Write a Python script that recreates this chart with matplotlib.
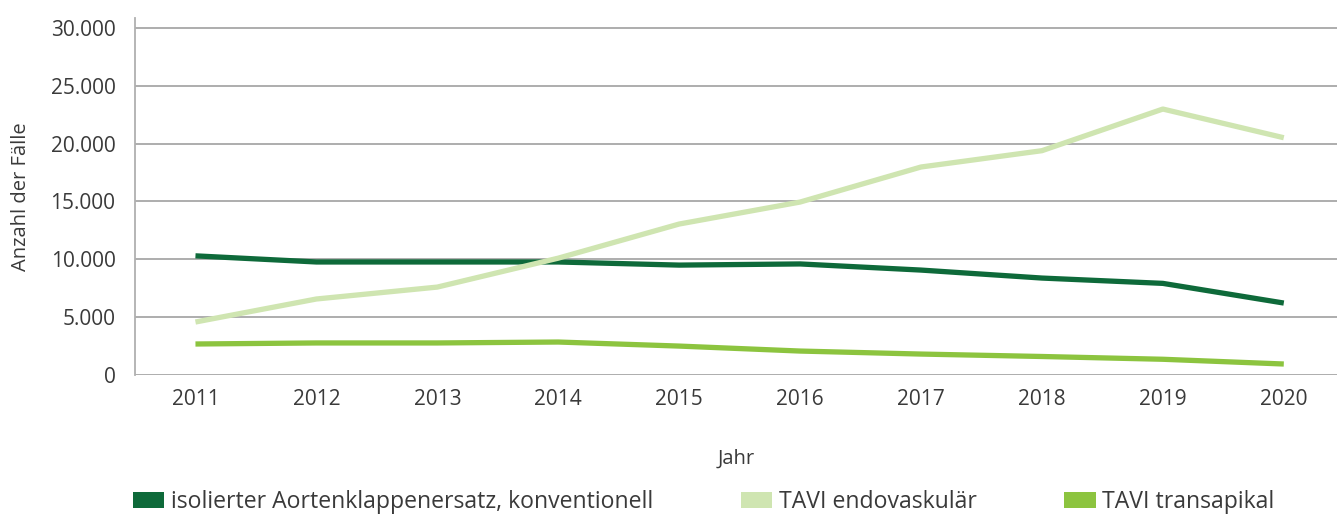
import matplotlib.pyplot as plt
from matplotlib.patches import Patch

plt.rcParams['font.family'] = ['Open Sans', 'DejaVu Sans']

years = ['2011', '2012', '2013', '2014', '2015', '2016', '2017', '2018', '2019', '2020']
konventionell = [10300, 9770, 9770, 9770, 9500, 9600, 9070, 8380, 7920, 6220]
endovaskulaer = [4580, 6570, 7600, 10100, 13050, 14950, 17980, 19390, 22990, 20510]
transapikal = [2680, 2770, 2770, 2850, 2500, 2070, 1810, 1600, 1360, 950]

names = ['isolierter Aortenklappenersatz, konventionell', 'TAVI endovaskulär', 'TAVI transapikal']
colors = ['#0e6a3a', '#cfe5b1', '#8cc43f']
txt = '#3a3a3a'

fig = plt.figure(figsize=(13.37, 5.16), dpi=100)
ax = fig.add_axes([135/1337, 141/516, 1 - 135/1337, 357/516])

x = range(len(years))
for vals, c in zip([konventionell, endovaskulaer, transapikal], colors):
    ax.plot(x, vals, color=c, linewidth=3.8, solid_capstyle='butt', zorder=3)

ax.set_xlim(-0.5, 9.44)
ax.set_ylim(0, 30860)
ax.set_yticks(range(0, 30001, 5000))
ax.set_yticklabels(['0', '5.000', '10.000', '15.000', '20.000', '25.000', '30.000'])
ax.set_xticks(list(x))
ax.set_xticklabels(years)
ax.tick_params(length=0, labelsize=15, labelcolor=txt)
ax.tick_params(axis='y', pad=14)
ax.tick_params(axis='x', pad=10)

ax.grid(axis='y', color='#a0a0a0', linewidth=1.2, zorder=0)
for s in ['top', 'right', 'bottom']:
    ax.spines[s].set_visible(False)
ax.spines['left'].set_color('#b0b0b0')
ax.spines['left'].set_linewidth(1.3)

ax.set_ylabel('Anzahl der Fälle', fontsize=14.5, color=txt, labelpad=14)
ax.set_xlabel('Jahr', fontsize=14.5, color=txt, labelpad=28)

handles = [Patch(facecolor=c, edgecolor='none') for c in colors]
leg = fig.legend(handles, names, ncol=3, loc='center left', bbox_to_anchor=(133/1337, 14/516),
                 frameon=False, fontsize=16.6, handlelength=1.35, handleheight=0.75,
                 handletextpad=0.3, columnspacing=3.8, borderaxespad=0, borderpad=0)
for t in leg.get_texts():
    t.set_color(txt)

fig.savefig('out.png', dpi=100)
